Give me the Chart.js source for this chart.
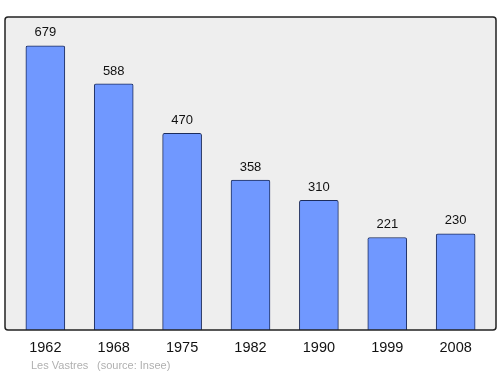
<!DOCTYPE html>
<html>
<head>
<meta charset="utf-8">
<script src="https://cdn.jsdelivr.net/npm/chart.js@4/dist/chart.umd.min.js"></script>
<style>
  html, body { margin: 0; padding: 0; background: #fff; }
  #wrap { width: 500px; height: 374px; }
</style>
</head>
<body>
<div id="wrap"><canvas id="popChart" width="500" height="374"></canvas></div>
<script>
// Population chart, Les Vastres
const years = ['1962', '1968', '1975', '1982', '1990', '1999', '2008'];
const population = [679, 588, 470, 358, 310, 221, 230];
const placeName = 'Les Vastres';
const sourceText = '(source: Insee)';

// background + frame of the plot area, labels under the bars
const framePlugin = {
  id: 'frame',
  beforeDraw(chart) {
    const { ctx, chartArea: a } = chart;
    ctx.save();
    ctx.fillStyle = '#eeeeee';
    ctx.beginPath();
    ctx.roundRect(a.left, a.top, a.right - a.left, a.bottom - a.top, 3);
    ctx.fill();
    ctx.restore();
  },
  afterDatasetsDraw(chart) {
    const { ctx, chartArea: a } = chart;
    const meta = chart.getDatasetMeta(0);
    ctx.save();
    ctx.strokeStyle = '#222';
    ctx.lineWidth = 1.5;
    ctx.beginPath();
    ctx.roundRect(a.left, a.top, a.right - a.left, a.bottom - a.top, 3);
    ctx.stroke();

    ctx.fillStyle = '#111';
    ctx.textAlign = 'center';
    ctx.textBaseline = 'middle';
    ctx.font = '13px "Liberation Sans", Arial, sans-serif';
    meta.data.forEach((bar, i) => {
      ctx.fillText(String(population[i]), bar.x, bar.y - 13);
    });

    ctx.font = '14.5px "Liberation Sans", Arial, sans-serif';
    meta.data.forEach((bar, i) => {
      ctx.fillText(years[i], bar.x, a.bottom + 18);
    });

    ctx.fillStyle = '#b0b0b0';
    ctx.textAlign = 'left';
    ctx.font = '11px "Liberation Sans", Arial, sans-serif';
    ctx.fillText(placeName, 31, a.bottom + 36);
    ctx.fillText(sourceText, 97, a.bottom + 36);
    ctx.restore();
  }
};

new Chart(document.getElementById('popChart'), {
  type: 'bar',
  data: {
    datasets: [{
      data: population.map((v, i) => ({ x: i, y: v })),
      backgroundColor: '#7098ff',
      borderColor: '#1c2c5c',
      borderWidth: 1,
      borderRadius: 2,
      borderSkipped: 'bottom',
      barThickness: 39
    }]
  },
  options: {
    responsive: false,
    animation: false,
    layout: { padding: { left: 5, right: 4, top: 17, bottom: 44 } },
    plugins: { legend: { display: false }, tooltip: { enabled: false } },
    scales: {
      x: { type: 'linear', offset: false, min: -0.59, max: 6.59, display: false },
      y: { min: 0, max: 748, display: false }
    }
  },
  plugins: [framePlugin]
});
</script>
</body>
</html>
